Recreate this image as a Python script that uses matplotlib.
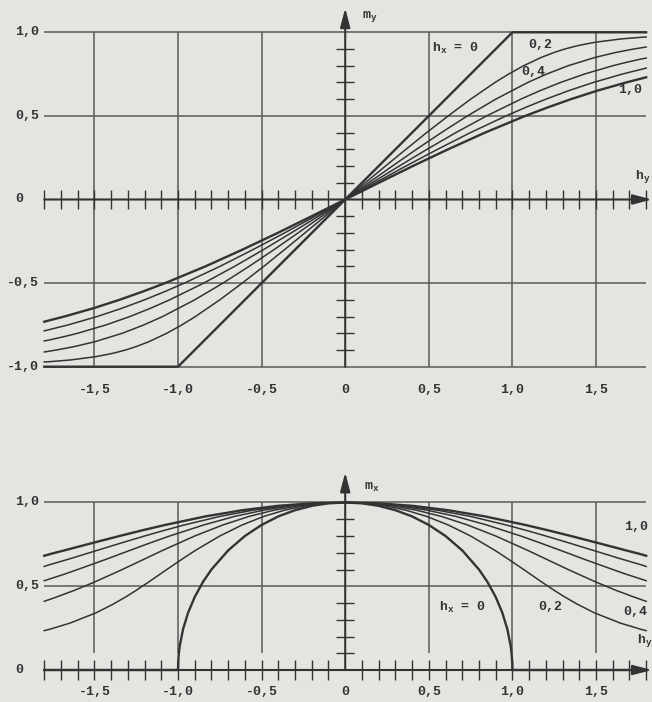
import numpy as np
import matplotlib
matplotlib.use("Agg")
import matplotlib.pyplot as plt

# Werte (nur h_y >= 0, die Kurven sind ungerade bzw. gerade)
# h_x = 0
hy_00 = [0, 1.0, 1.8]
my_00 = [0, 1.0, 1.0]
hy_00_x = [0, .1, .2, .3, .4, .5, .6, .7, .8, .85, .9, .94, .97, .99, .995, .999, 1.0, 1.8]
mx_00 = [1, .995, .980, .954, .917, .866, .800, .714, .600, .527, .436, .341, .243, .141, .100, .045, 0, 0]

# h_x = 0,2
hy_02 = [0, .120, .241, .363, .487, .616, .750, .896, .977, 1.067, 1.173, 1.251, 1.313, 1.390, 1.491, 1.646, 1.768, 1.800]
my_02 = [0, .10, .20, .30, .40, .50, .60, .70, .75, .80, .85, .88, .90, .92, .94, .96, .97, .972]
mx_02 = [1, .995, .980, .954, .917, .866, .800, .714, .661, .600, .527, .475, .436, .392, .341, .280, .243, .235]

# h_x = 0,4
hy_04 = [0, .140, .282, .426, .575, .731, .900, 1.092, 1.204, 1.333, 1.495, 1.621, 1.726, 1.800]
my_04 = [0, .10, .20, .30, .40, .50, .60, .70, .75, .80, .85, .88, .90, .912]
mx_04 = [1, .995, .980, .954, .917, .866, .800, .714, .661, .600, .527, .475, .436, .410]

# h_x = 0,6
hy_06 = [0, .160, .323, .489, .662, .846, 1.050, 1.163, 1.288, 1.430, 1.600, 1.680, 1.769, 1.800]
my_06 = [0, .10, .20, .30, .40, .50, .60, .65, .70, .75, .80, .82, .84, .846]
mx_06 = [1, .995, .980, .954, .917, .866, .800, .760, .714, .661, .600, .572, .543, .533]

# h_x = 0,8
hy_08 = [0, .180, .363, .552, .749, .962, 1.077, 1.200, 1.334, 1.484, 1.657, 1.777, 1.800]
my_08 = [0, .10, .20, .30, .40, .50, .55, .60, .65, .70, .75, .78, .786]
mx_08 = [1, .995, .980, .954, .917, .866, .835, .800, .760, .714, .661, .626, .618]

# h_x = 1,0
hy_10 = [0, .201, .404, .615, .836, 1.077, 1.209, 1.350, 1.505, 1.680, 1.758, 1.800]
my_10 = [0, .10, .20, .30, .40, .50, .55, .60, .65, .70, .72, .731]
mx_10 = [1, .995, .980, .954, .917, .866, .835, .800, .760, .714, .694, .682]

x_ticklabels = ["-1,5", "-1,0", "-0,5", "0", "0,5", "1,0", "1,5"]
x_tickvals = [-1.5, -1.0, -0.5, 0, 0.5, 1.0, 1.5]
y_labels_top = ["1,0", "0,5", "0", "-0,5", "-1,0"]
y_vals_top = [1.0, 0.5, 0, -0.5, -1.0]
y_labels_bot = ["1,0", "0,5", "0"]
y_vals_bot = [1.0, 0.5, 0]

BG = "#e4e4e1"
INK = "#333333"
GRID = "#595959"

plt.rcParams["font.family"] = ["Liberation Mono", "DejaVu Sans Mono"]
plt.rcParams["font.weight"] = "bold"


def odd(x, y):
    x = np.asarray(x, float)
    y = np.asarray(y, float)
    return np.r_[-x[::-1], x[1:]], np.r_[-y[::-1], y[1:]]


def even(x, y):
    x = np.asarray(x, float)
    y = np.asarray(y, float)
    return np.r_[-x[::-1], x[1:]], np.r_[y[::-1], y[1:]]


def axis_arrow(ax, start, tip):
    ax.annotate("", xy=tip, xytext=start,
                arrowprops=dict(arrowstyle="-|>,head_length=1.15,head_width=0.3",
                                mutation_scale=10, color=INK, lw=1.5,
                                shrinkA=0, shrinkB=0))


fig = plt.figure(figsize=(6.52, 7.02), dpi=100)
fig.patch.set_facecolor(BG)

# Achsen so legen, dass 1 Einheit ~ 167 px entspricht
ax1 = fig.add_axes([0, 1 - 410 / 702, 1, 410 / 702])
ax1.set_xlim(-2.0646, 1.8349)
ax1.set_ylim(-1.259, 1.1932)
ax2 = fig.add_axes([0, 0, 1, 262 / 702])
ax2.set_xlim(-2.0646, 1.8349)
ax2.set_ylim(-0.191, 1.3731)
for ax in (ax1, ax2):
    ax.axis("off")

xt = np.array([t for t in np.arange(-18, 19) / 10 if abs(t) > 1e-9])
grid_x = [-1.5, -1.0, -0.5, 0.5, 1.0, 1.5]

# ---------------- oberes Diagramm: m_y ----------------
ax1.vlines(grid_x, -1.0, 1.0, color=GRID, lw=1.1)
ax1.hlines([-1.0, -0.5, 0.5, 1.0], -1.8, 1.8, color=GRID, lw=1.1)
axis_arrow(ax1, (-1.8, 0), (1.835, 0))
axis_arrow(ax1, (0, -1.0), (0, 1.145))
ax1.vlines(xt, -0.057, 0.057, color=INK, lw=1.0)
yt1 = np.array([t for t in np.arange(-9, 10) / 10 if abs(t) > 1e-9 and abs(abs(t) - 0.5) > 1e-9])
ax1.hlines(yt1, -0.054, 0.054, color=INK, lw=1.0)

upper = [(hy_00, my_00, 1.7), (hy_02, my_02, 1.1), (hy_04, my_04, 1.1),
         (hy_06, my_06, 1.1), (hy_08, my_08, 1.1), (hy_10, my_10, 1.7)]
for hy, my, lw in upper:
    x, y = odd(hy, my)
    ax1.plot(x, y, color=INK, lw=lw, solid_joinstyle="round")

for lab, v in zip(x_ticklabels, x_tickvals):
    ax1.text(v, -1.139, lab, ha="center", va="center", fontsize=9.5, color=INK)
for lab, v in zip(y_labels_top, y_vals_top):
    xl = -2.023 if lab.startswith("-") else -1.975
    ax1.text(xl, v, lab, ha="left", va="center", fontsize=9.5, color=INK)

ax1.text(0.10, 1.097, r"m$_\mathregular{y}$", ha="left", va="center", fontsize=9.5, color=INK)
ax1.text(1.735, 0.135, r"h$_\mathregular{y}$", ha="left", va="center", fontsize=9.5, color=INK)
ax1.text(0.519, 0.906, r"h$_\mathregular{x}$ = 0", ha="left", va="center", fontsize=9.5, color=INK)
ax1.text(1.093, 0.924, "0,2", ha="left", va="center", fontsize=9.5, color=INK)
ax1.text(1.052, 0.763, "0,4", ha="left", va="center", fontsize=9.5, color=INK)
ax1.text(1.631, 0.655, "1,0", ha="left", va="center", fontsize=9.5, color=INK)

# ---------------- unteres Diagramm: m_x ----------------
ax2.vlines(grid_x, 0.1, 1.0, color=GRID, lw=1.1)
ax2.hlines([0.5, 1.0], -1.8, 1.8, color=GRID, lw=1.1)
axis_arrow(ax2, (-1.8, 0), (1.835, 0))
axis_arrow(ax2, (0, 0), (0, 1.18))
ax2.vlines(xt, -0.057, 0.057, color=INK, lw=1.0)
yt2 = np.array([t for t in np.arange(1, 10) / 10 if abs(t - 0.5) > 1e-9])
ax2.hlines(yt2, -0.054, 0.054, color=INK, lw=1.0)

lower = [(hy_00_x, mx_00, 1.7), (hy_02, mx_02, 1.1), (hy_04, mx_04, 1.1),
         (hy_06, mx_06, 1.1), (hy_08, mx_08, 1.1), (hy_10, mx_10, 1.7)]
for hy, mx, lw in lower:
    x, y = even(hy, mx)
    ax2.plot(x, y, color=INK, lw=lw, solid_joinstyle="round")

for lab, v in zip(x_ticklabels, x_tickvals):
    ax2.text(v, -0.131, lab, ha="center", va="center", fontsize=9.5, color=INK)
for lab, v in zip(y_labels_bot, y_vals_bot):
    ax2.text(-1.975, v, lab, ha="left", va="center", fontsize=9.5, color=INK)

ax2.text(0.112, 1.087, r"m$_\mathregular{x}$", ha="left", va="center", fontsize=9.5, color=INK)
ax2.text(1.745, 0.179, r"h$_\mathregular{y}$", ha="left", va="center", fontsize=9.5, color=INK)
ax2.text(0.561, 0.376, r"h$_\mathregular{x}$ = 0", ha="left", va="center", fontsize=9.5, color=INK)
ax2.text(1.153, 0.376, "0,2", ha="left", va="center", fontsize=9.5, color=INK)
ax2.text(1.661, 0.346, "0,4", ha="left", va="center", fontsize=9.5, color=INK)
ax2.text(1.667, 0.854, "1,0", ha="left", va="center", fontsize=9.5, color=INK)

fig.savefig("out.png", dpi=100, facecolor=BG)
plt.close(fig)
